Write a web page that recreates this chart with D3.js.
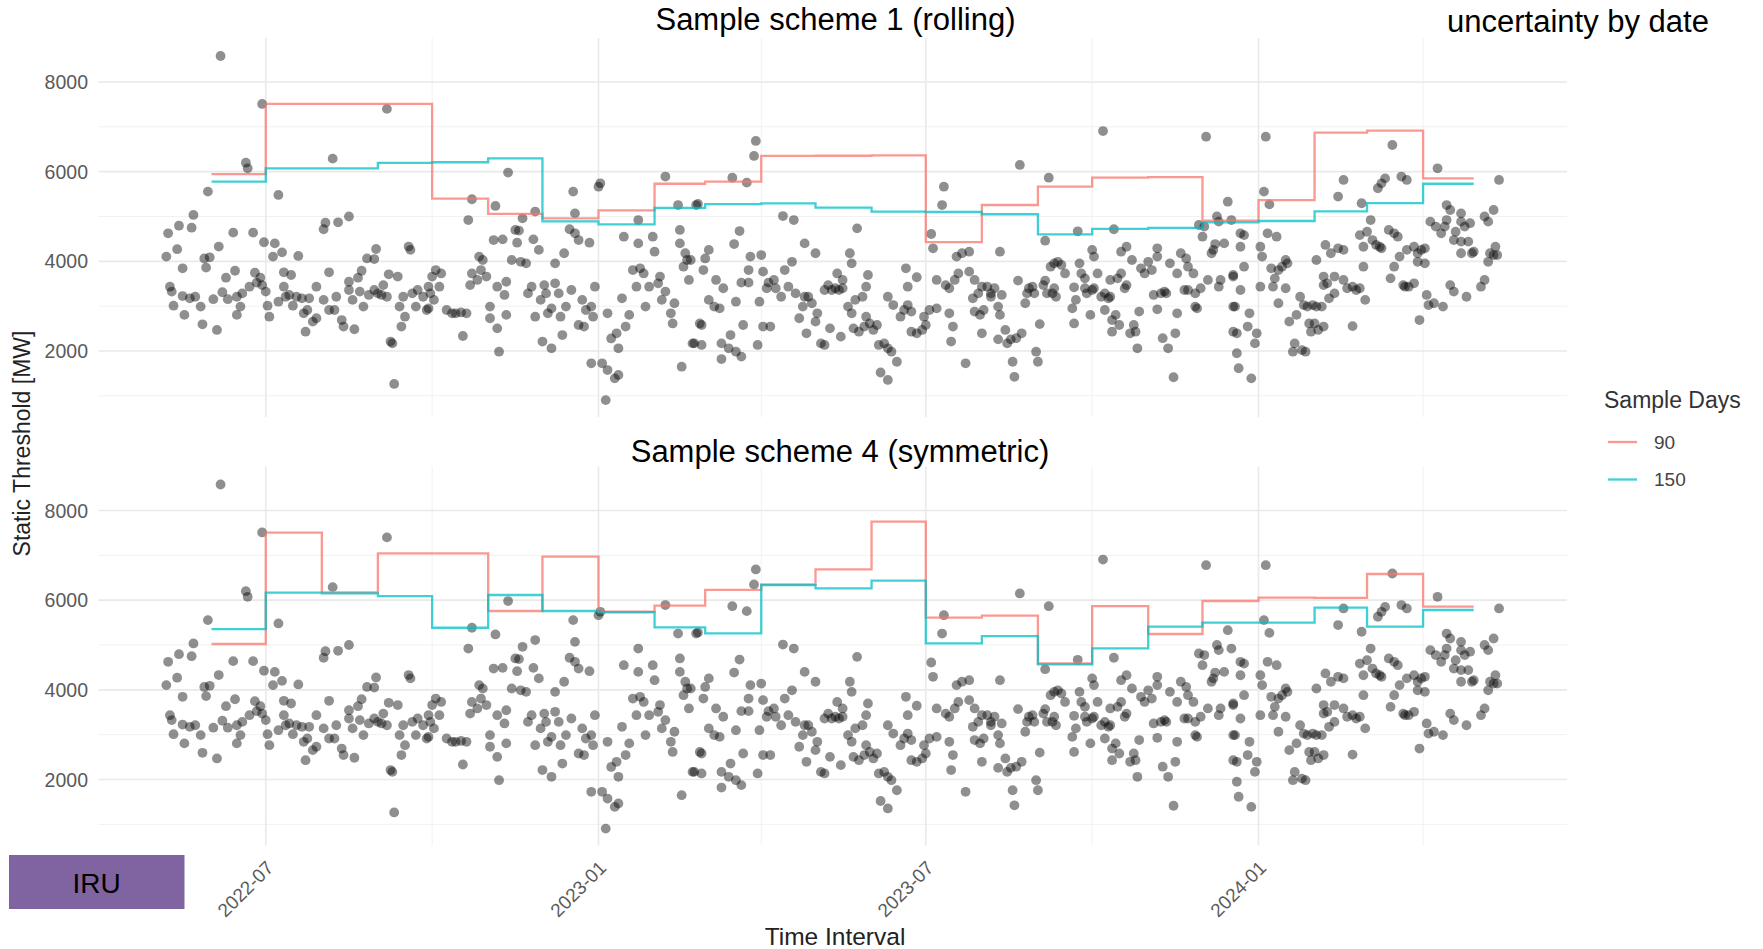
<!DOCTYPE html>
<html><head><meta charset="utf-8">
<script src="https://cdn.jsdelivr.net/npm/d3@7"></script>
<style>
body{margin:0;background:#fff}
svg{display:block}
text{font-family:"Liberation Sans",Arial,Helvetica,sans-serif}
</style>
</head><body>
<svg id="chart" width="1763" height="949"></svg>
<script>
// ---------------- DATA ----------------
const months = ["2022-06","2022-07","2022-08","2022-09","2022-10","2022-11","2022-12",
  "2023-01","2023-02","2023-03","2023-04","2023-05","2023-06","2023-07","2023-08","2023-09",
  "2023-10","2023-11","2023-12","2024-01","2024-02","2024-03","2024-04"];
const stepEnd = "2024-04-29";

const scheme1_90  = [5945,7510,7510,7510,5400,5060,4960,5135,5730,5776,6350,6355,6365,4430,5256,5665,5866,5880,4910,5367,6870,6914,5851];
const scheme1_150 = [5776,6075,6075,6195,6210,6297,4890,4825,5190,5278,5294,5200,5107,5100,5050,4600,4725,4745,4870,4900,5115,5300,5730];
const scheme4_90  = [5022,7505,6175,7045,7045,5758,6970,5742,5880,6230,6350,6688,7750,5609,5653,4591,5869,5245,5981,6055,6050,6583,5854];
const scheme4_150 = [5356,6166,6150,6092,5385,6115,5758,5730,5394,5260,6335,6264,6434,5037,5200,4568,4926,5408,5497,5500,5832,5408,5780];

// observations: [days since obsStart, MW]
const obsStart = "2022-05-01";
const obs = [
[36,8580],[59,7510],[128,7400],[50,6200],[51,6075],[98,6290],[29,5555],[68,5480],[21,5035],[13,4795],[20,4750],[7,4625],[43,4640],[54,4640],[94,4860],[93,4715],[101,4870],[107,5000],[12,4270],[6,4105],[35,4330],[60,4425],[66,4400],[70,4200],[65,4105],[79,4120],[27,4065],[30,4090],[28,3860],[15,3845],[122,4275],[117,4065],[121,4050],[140,4330],[141,4255],[44,3790],[39,3635],[55,3745],[58,3635],[71,3755],[75,3695],[96,3755],[114,3790],[112,3635],[129,3710],[134,3660],[8,3435],[9,3325],[15,3225],[19,3175],[22,3210],[10,3010],[16,2805],[25,2990],[26,2595],[34,2470],[32,3155],[37,3310],[40,3155],[45,3210],[47,2990],[45,2805],[48,3285],[52,3435],[56,3525],[59,3470],[61,3325],[62,3010],[63,2765],[68,3100],[71,3435],[72,3210],[74,3250],[78,3210],[81,3175],[76,3010],[82,2840],[84,2915],[83,2430],[87,2655],[89,2730],[85,3175],[89,3435],[93,3140],[96,2915],[99,2915],[100,3210],[103,2690],[104,2545],[110,2485],[107,3545],[107,3360],[109,3140],[113,3325],[115,2990],[118,3250],[121,3360],[123,3285],[125,3250],[126,3470],[128,3210],[130,2210],[131,2170],[132,1265],[136,2545],[138,2765],[135,2990],[137,3210],[142,3285],[145,3360],[148,3210],[151,3435],[144,2990],[150,2915],
[153,3660],[155,3805],[158,3730],[157,3435],[152,3285],[154,3140],[151,2950],[161,2915],[164,2840],[166,2840],[169,2860],[172,2840],[170,2335],[173,4920],[175,5385],[188,5235],[195,5980],[174,3470],[175,3730],[178,3585],[180,3805],[183,3660],[179,4105],[181,4030],[185,2990],[185,2730],[189,2505],[190,1985],[187,4475],[192,4490],[189,3435],[193,3250],[194,3545],[194,2805],[197,4030],[199,4700],[201,4685],[200,4415],[203,4960],[202,3990],[205,3955],[206,3285],[208,3435],[210,2765],[213,3140],[209,4490],[212,4255],[210,5110],[214,2210],[219,2060],[217,2840],[215,3470],[216,3285],[219,2950],[221,3955],[221,3510],[223,3285],[224,2765],[225,2355],[226,4180],[227,2990],[230,3360],[231,5555],[232,5070],[229,4715],[232,4625],[234,4475],[240,4415],[236,3140],[238,2915],[241,2990],[243,3435],[242,2765],[234,2580],[237,2545],[241,1725],[247,1725],[250,1575],[254,1390],[256,1465],[249,905],[246,5740],[245,5665],[250,2840],[252,2280],[255,2395],[256,2060],[260,2545],[259,4550],[258,3175],[262,2805],[264,3805],[266,3435],[267,4920],[267,4400],[268,3845],[270,3730],[273,3435],[271,2990],[275,4550],[276,4215],[278,3510],[279,3660],[280,3140],[282,3325],[285,2840],[286,2615],[287,3065],[282,5890],[289,5255],[291,1650],[290,4700],[290,4400],[293,4180],[294,4030],[292,3880],[295,3585],[297,2170],[299,5255],[296,4030],
[300,5280],[306,4255],[304,4065],[303,3805],[310,3585],[314,3400],[306,3140],[309,2990],[312,2950],[302,2580],[301,2615],[298,2170],[302,2135],[313,1820],[313,2170],[317,2060],[318,2355],[321,1985],[324,1875],[319,5865],[327,5755],[332,6685],[331,6350],[323,4675],[320,4385],[321,3100],[325,2580],[324,3525],[328,3525],[329,4105],[328,3805],[335,4140],[333,2135],[334,3100],[336,2545],[340,2545],[336,3770],[338,3400],[339,3525],[342,3585],[343,3400],[346,3210],[348,3805],[350,3435],[347,5010],[353,4920],[352,3990],[354,3285],[356,2730],[358,2990],[359,4400],[365,4180],[359,3210],[361,3210],[363,3065],[360,2395],[366,2840],[365,2655],[368,2170],[370,2135],[370,3360],[372,3470],[374,3360],[376,3400],[378,3360],[380,3400],[377,3730],[380,3585],[373,2505],[379,2320],[384,4180],[385,3955],[383,2990],[385,2840],[387,3140],[386,2505],[388,4735],[391,3210],[393,3435],[394,3695],[393,2765],[389,2430],[392,2545],[395,2615],[397,2470],[399,2580],[400,2135],[403,2170],[405,2060],[407,1985],[410,1760],[401,1520],[405,1355],[405,3210],[408,3025],[412,2765],[414,2915],[416,3025],[418,2880],[415,3845],[416,3435],[421,3645],[418,2430],[421,2395],[424,2470],[426,2580],[425,2765],[428,2915],[429,4610],[430,4290],[432,3585],[432,2950],[436,5665],[435,5255],[437,3470],[439,3400],[442,3585],[439,2840],[443,4105],[446,4180],[444,3730],[441,2545],[440,2210],[448,1725],
[450,4215],[450,3770],[453,3585],[455,3285],[457,3435],[452,3175],[458,2915],[460,3435],[462,3285],[462,3210],[464,3400],[453,2880],[456,2805],[457,2395],[466,2990],[468,3250],[467,2805],[466,2260],[470,2470],[471,2170],[473,2260],[476,2285],[479,2395],[467,4215],[474,1760],[475,1425],[478,6150],[477,3570],[481,3065],[482,3285],[483,3400],[485,3435],[486,3285],[489,2600],[487,1985],[488,1760],[492,3570],[493,3285],[491,3470],[494,5865],[492,4460],[495,3880],[497,3955],[499,3990],[501,3920],[503,3730],[496,3285],[498,3210],[497,3400],[507,2950],[508,2615],[509,3140],[508,3420],[510,4670],[511,3955],[512,3730],[514,3620],[514,3400],[515,3285],[517,2805],[518,3360],[519,3400],[521,3730],[518,4255],[519,4105],[523,3210],[524,6905],[525,3285],[527,3175],[528,3210],[525,2915],[529,2690],[531,2805],[530,4715],[528,3585],[532,3620],[534,3730],[536,3400],[537,3470],[534,4215],[537,4325],[540,4030],[529,2430],[533,2580],[539,2395],[542,2430],[541,2580],[543,2060],[544,2880],[545,3845],[547,3730],[549,3990],[551,3805],[552,3250],[554,4290],[554,4105],[556,3285],[558,3325],[559,3285],[554,2930],[557,2285],[560,2060],[564,2395],[563,1415],[565,2840],[561,3955],[565,3730],[567,4180],[570,4065],[571,3880],[569,3360],[571,3360],[574,3730],[575,3285],[575,2990],[576,2950],[578,3400],[581,6780],[577,4810],[580,4775],[579,4550],[584,4180],[585,4255],[587,5000],[588,4885],[586,4385],[582,3585],[588,3435],[589,3585],[591,4400],[593,5330],[595,4920],[596,3695],[596,2990],[598,2395],[598,1950],[599,1615],
[600,4625],[602,4585],[600,4325],[602,3880],[596,3660],[600,3360],[597,2990],[596,2430],[606,1390],[605,2840],[604,2545],[609,2395],[608,2170],[611,4325],[612,4105],[611,3435],[614,6780],[613,5555],[616,5270],[615,4625],[620,4550],[617,3845],[619,3620],[621,3805],[623,3880],[625,4030],[626,3955],[618,3435],[621,3065],[625,3400],[627,2655],[629,1985],[631,2805],[633,3210],[630,2170],[634,2020],[636,1985],[638,2615],[639,2430],[635,3025],[637,2990],[640,3025],[642,2990],[645,2990],[641,2615],[643,2470],[646,2545],[642,4030],[647,4365],[650,4180],[654,4290],[657,4255],[646,3660],[648,3510],[652,3660],[657,3585],[646,3470],[649,3175],[652,3285],[654,5445],[657,5815],[659,3400],[662,3435],[664,3360],[666,3400],[662,2555],[667,5295],[666,4585],[668,4325],[669,3140],[668,3880],[670,4660],[672,4920],[673,4475],[675,4365],[677,4325],[678,4290],[676,5630],[678,5740],[680,5850],[684,6595],[689,5890],[692,5815],[682,4700],[685,4625],[687,4550],[683,3620],[685,3880],[688,4105],[690,3470],[691,3435],[693,3435],[696,3510],[692,4255],[696,4325],[698,4180],[700,4255],[702,4290],[698,3990],[702,3955],[703,3250],[704,3025],[707,3065],[712,2990],[699,2690],[705,4885],[708,4775],[711,4625],[713,4775],[714,4920],[714,5255],[716,5145],[719,4660],[722,5070],[722,4885],[709,6075],[718,4475],[722,4440],[726,4440],[724,4775],[727,4850],[716,3470],[718,3325],[725,3210],[733,3435],[735,3585],[722,4180],[728,4180],[729,4215],[735,5000],[737,4885],[740,5145],[738,4180],[740,4140],[742,4140],[737,3990],[741,4325],[743,5815]
];

const yTicks = [2000,4000,6000,8000];
const yMinor = [1000,3000,5000,7000];
const xTicks = ["2022-07","2023-01","2023-07","2024-01"];
const xMinor = ["2022-10","2023-04","2023-10","2024-04"];
const panelTitles = ["Sample scheme 1 (rolling)","Sample scheme 4 (symmetric)"];
const seriesNames = ["90","150"];
const seriesColors = ["#F8766D","#00BFC4"];

// ---------------- LAYOUT ----------------
const svg = d3.select("#chart");
const L = 98.5, R = 1567, PH = 379;
const panelTops = [38, 466.5];
const parseM = d3.utcParse("%Y-%m");
const parseD = d3.utcParse("%Y-%m-%d");
const x = d3.scaleUtc().domain([Date.UTC(2022,2,30,12), Date.UTC(2024,5,19,14)]).range([L, R]);
const start = parseD(obsStart);
const obsPts = obs.map(([d,v]) => ({date: d3.utcDay.offset(start, d), v}));

const panelSeries = [[scheme1_90, scheme1_150],[scheme4_90, scheme4_150]];
const titleX = [835.5, 840];
const titleY = [30, 461.5];

panelTops.forEach((top, pi) => {
  const y = d3.scaleLinear().domain([528, 8981]).range([top + PH, top]);
  const g = svg.append("g");
  g.selectAll(".hmin").data(yMinor).join("line")
    .attr("x1", L).attr("x2", R).attr("y1", d=>y(d)).attr("y2", d=>y(d))
    .attr("stroke", "#f1f1f1").attr("stroke-width", 1);
  g.selectAll(".vmin").data(xMinor).join("line")
    .attr("x1", d=>x(parseM(d))).attr("x2", d=>x(parseM(d))).attr("y1", top).attr("y2", top+PH)
    .attr("stroke", "#f1f1f1").attr("stroke-width", 1);
  g.selectAll(".hmaj").data(yTicks).join("line")
    .attr("x1", L).attr("x2", R).attr("y1", d=>y(d)).attr("y2", d=>y(d))
    .attr("stroke", "#e9e9e9").attr("stroke-width", 1.6);
  g.selectAll(".vmaj").data(xTicks).join("line")
    .attr("x1", d=>x(parseM(d))).attr("x2", d=>x(parseM(d))).attr("y1", top).attr("y2", top+PH)
    .attr("stroke", "#e9e9e9").attr("stroke-width", 1.6);
  g.selectAll(".yl").data(yTicks).join("text")
    .attr("x", 88).attr("y", d=>y(d)).attr("dy","0.36em")
    .attr("text-anchor","end").attr("font-size", 19.5).attr("fill","#5a5a5a")
    .text(d=>d);
  g.selectAll(".pt").data(obsPts).join("circle")
    .attr("cx", d=>x(d.date)).attr("cy", d=>y(d.v)).attr("r", 4.9)
    .attr("fill", "#000").attr("fill-opacity", 0.44);
  const line = d3.line().x(d=>x(d.date)).y(d=>y(d.v)).curve(d3.curveStepAfter);
  panelSeries[pi].forEach((vals, si) => {
    const pts = months.map((m,i)=>({date: parseM(m), v: vals[i]}));
    pts.push({date: parseD(stepEnd), v: vals[vals.length-1]});
    g.append("path").attr("d", line(pts)).attr("fill","none")
      .attr("stroke", seriesColors[si]).attr("stroke-width", 2.3).attr("stroke-opacity", 0.75);
  });
  svg.append("text").attr("x", titleX[pi]).attr("y", titleY[pi]).attr("text-anchor","middle")
    .attr("font-size", 31).attr("fill","#000").text(panelTitles[pi]);
});

svg.selectAll(".xl").data(xTicks).join("text")
  .attr("transform", d=>`translate(${x(parseM(d))+9},869) rotate(-45)`)
  .attr("text-anchor","end").attr("font-size", 19).attr("fill","#5a5a5a")
  .text(d=>d);

svg.append("text").attr("x", 835).attr("y", 945).attr("text-anchor","middle")
  .attr("font-size", 24.5).attr("fill","#222").text("Time Interval");
svg.append("text").attr("transform","translate(30,443.5) rotate(-90)").attr("text-anchor","middle")
  .attr("font-size", 23).attr("fill","#222").text("Static Threshold [MW]");

svg.append("text").attr("x", 1578).attr("y", 31.5).attr("text-anchor","middle")
  .attr("font-size", 31).attr("fill","#000").text("uncertainty by date");

svg.append("text").attr("x", 1604).attr("y", 408).attr("font-size", 23).attr("fill","#333").text("Sample Days");
seriesNames.forEach((n,i)=>{
  const cy = [442, 479.5][i];
  svg.append("line").attr("x1",1608).attr("x2",1637).attr("y1",cy).attr("y2",cy)
    .attr("stroke", seriesColors[i]).attr("stroke-width", 2.3).attr("stroke-opacity",0.75);
  svg.append("text").attr("x",1654).attr("y",cy).attr("dy","0.36em").attr("font-size",19)
    .attr("fill","#444").text(n);
});

svg.append("rect").attr("x",9).attr("y",855).attr("width",175.5).attr("height",54).attr("fill","#8064A2");
svg.append("text").attr("x",96.7).attr("y",892.5).attr("text-anchor","middle").attr("font-size",28)
  .attr("fill","#000").text("IRU");
</script>
</body></html>
